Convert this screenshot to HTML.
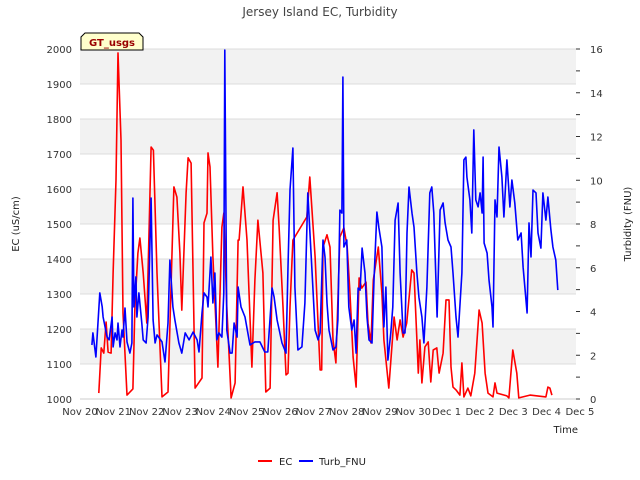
<!DOCTYPE html>
<html><head><meta charset="utf-8"><style>
body{margin:0;background:#fff;}
svg{display:block;font-family:"DejaVu Sans","Liberation Sans",sans-serif;}
</style></head><body>
<svg id="chart" width="640" height="480" viewBox="0 0 640 480" xmlns="http://www.w3.org/2000/svg">
<rect width="640" height="480" fill="#fff"/>
<g id="bands"></g><g id="grid"></g>
<text x="320" y="16" text-anchor="middle" font-size="12" fill="#444">Jersey Island EC, Turbidity</text>
<g id="axes"></g>
<g id="series"></g>
<text transform="translate(19,224) rotate(-90)" text-anchor="middle" font-size="10" fill="#222">EC (uS/cm)</text>
<text transform="translate(631,224) rotate(-90)" text-anchor="middle" font-size="10" fill="#222">Turbidity (FNU)</text>
<text x="578" y="433" text-anchor="end" font-size="10" fill="#222">Time</text>
<g>
<path d="M81,50 L81,37 L85,33 L139,33 L143,37 L143,50 Z" fill="#ffffcc" stroke="#000" stroke-width="1"/>
<text x="112" y="46" text-anchor="middle" font-size="10" font-weight="bold" fill="#990000">GT_usgs</text>
</g>
<g>
<g><line x1="258" y1="461" x2="272" y2="461" stroke="#f00" stroke-width="2"/><text x="279" y="465" font-size="10" fill="#222">EC</text></g>
<g><line x1="299" y1="461" x2="313" y2="461" stroke="#00f" stroke-width="2"/><text x="319" y="465" font-size="10" fill="#222">Turb_FNU</text></g>
</g>
</svg>
<script>
const xTickLabels=["Nov 20","Nov 21","Nov 22","Nov 23","Nov 24","Nov 25","Nov 26","Nov 27","Nov 28","Nov 29","Nov 30","Dec 1","Dec 2","Dec 3","Dec 4","Dec 5"];
const ecTicks=[1000,1100,1200,1300,1400,1500,1600,1700,1800,1900,2000];
const turbTicks=[0,2,4,6,8,10,12,14,16];
const ecDays=[0.57,0.64,0.72,0.79,0.85,0.94,1.00,1.09,1.15,1.24,1.30,1.42,1.60,1.66,1.75,1.81,1.91,2.02,2.15,2.22,2.33,2.48,2.66,2.78,2.84,2.93,3.02,3.08,3.21,3.27,3.36,3.48,3.69,3.75,3.84,3.87,3.93,4.02,4.17,4.29,4.35,4.44,4.57,4.69,4.78,4.81,4.93,5.05,5.20,5.29,5.38,5.53,5.62,5.75,5.84,5.96,6.02,6.14,6.23,6.29,6.35,6.44,6.86,6.95,7.11,7.26,7.31,7.35,7.47,7.56,7.65,7.74,7.86,7.98,8.08,8.16,8.26,8.35,8.44,8.52,8.65,8.71,8.80,8.87,9.02,9.13,9.19,9.34,9.50,9.59,9.68,9.77,9.88,10.03,10.10,10.19,10.23,10.28,10.34,10.43,10.53,10.61,10.68,10.79,10.86,10.98,11.07,11.16,11.22,11.28,11.37,11.49,11.55,11.61,11.73,11.82,11.94,12.07,12.16,12.25,12.34,12.49,12.55,12.61,12.91,12.97,13.09,13.21,13.27,13.61,14.09,14.15,14.21,14.27];
const ecValues=[1017,1146,1131,1220,1134,1131,1359,1626,1989,1740,1246,1011,1029,1263,1417,1460,1360,1217,1720,1711,1360,1006,1020,1406,1606,1577,1417,1254,1589,1689,1674,1031,1060,1503,1531,1703,1663,1406,1091,1491,1531,1263,1003,1046,1454,1454,1606,1454,1091,1340,1511,1360,1020,1031,1511,1589,1491,1263,1069,1074,1263,1454,1520,1634,1406,1083,1083,1434,1469,1434,1169,1103,1463,1489,1434,1311,1120,1034,1346,1317,1334,1217,1160,1340,1434,1303,1169,1031,1234,1169,1226,1177,1217,1369,1360,1169,1074,1169,1046,1149,1163,1049,1140,1146,1074,1131,1283,1283,1091,1034,1026,1011,1103,1006,1031,1009,1074,1254,1217,1074,1017,1006,1046,1017,1009,1003,1140,1074,1003,1011,1006,1034,1031,1011];
const turbDays=[0.36,0.39,0.48,0.60,0.67,0.70,0.82,0.88,0.97,1.00,1.06,1.12,1.15,1.21,1.27,1.30,1.36,1.42,1.51,1.57,1.60,1.63,1.69,1.72,1.78,1.87,1.91,2.00,2.06,2.15,2.21,2.27,2.33,2.48,2.57,2.66,2.72,2.81,2.87,2.99,3.08,3.18,3.30,3.42,3.54,3.60,3.69,3.75,3.84,3.87,3.96,4.02,4.08,4.14,4.20,4.29,4.35,4.38,4.44,4.54,4.60,4.66,4.75,4.78,4.87,4.99,5.14,5.29,5.44,5.59,5.68,5.81,5.87,5.96,6.11,6.23,6.29,6.35,6.44,6.50,6.59,6.71,6.80,6.89,7.02,7.11,7.20,7.26,7.35,7.41,7.47,7.53,7.65,7.74,7.80,7.86,7.92,7.95,7.98,8.07,8.13,8.22,8.29,8.35,8.41,8.47,8.53,8.62,8.68,8.74,8.83,8.89,8.98,9.04,9.13,9.19,9.25,9.31,9.40,9.46,9.53,9.62,9.68,9.77,9.83,9.89,9.95,10.04,10.10,10.19,10.25,10.34,10.40,10.49,10.58,10.64,10.70,10.80,10.89,10.98,11.04,11.13,11.22,11.28,11.37,11.43,11.55,11.61,11.67,11.70,11.79,11.85,11.91,11.97,12.04,12.10,12.16,12.19,12.22,12.31,12.37,12.46,12.49,12.55,12.61,12.67,12.76,12.82,12.91,13.00,13.06,13.15,13.24,13.34,13.40,13.52,13.58,13.64,13.70,13.79,13.85,13.94,14.00,14.09,14.15,14.24,14.30,14.39,14.45];
const turbValues=[2.47,3.02,1.92,4.85,4.21,3.75,2.83,2.70,3.75,2.38,3.02,2.70,3.47,2.38,3.15,2.83,4.16,2.61,2.10,2.56,9.19,4.21,5.58,3.75,4.85,3.47,2.70,2.56,3.75,9.19,3.61,2.56,2.93,2.61,1.69,3.47,6.35,4.21,3.61,2.56,2.10,3.02,2.70,3.06,2.70,2.15,3.93,4.85,4.66,4.21,6.49,4.39,5.76,2.70,3.02,2.83,4.85,15.95,3.15,2.10,2.10,3.47,2.83,5.12,4.21,3.75,2.47,2.61,2.61,2.15,2.15,5.07,4.66,3.61,2.56,2.10,6.03,9.55,11.47,5.12,2.24,2.38,4.39,9.42,5.76,3.15,2.70,3.02,7.27,6.49,4.39,3.15,2.24,2.38,3.61,8.64,8.50,14.72,6.95,7.27,4.21,3.15,3.61,2.10,5.07,4.98,6.90,5.76,3.75,2.70,2.56,5.44,8.55,7.82,6.95,3.29,5.12,1.78,3.02,4.21,8.18,8.96,5.76,3.02,3.02,7.59,9.69,8.50,7.86,5.76,4.66,3.75,2.56,5.12,9.42,9.69,8.50,3.75,8.64,8.96,8.05,7.27,6.95,5.76,3.75,2.83,5.76,10.93,11.06,10.15,9.10,7.59,12.30,9.10,8.78,9.42,8.50,11.06,7.13,6.67,5.44,4.21,3.29,9.10,8.32,11.52,10.15,8.32,10.93,8.78,10.01,8.96,7.27,7.59,6.03,3.93,8.05,6.49,9.55,9.42,7.59,6.90,9.42,8.18,9.23,7.73,6.95,6.35,4.98];

const L=80,R=576,T=49,B=399,NS="http://www.w3.org/2000/svg";
const xs=d=>L+d*(R-L)/15;
const xl=i=>L+i*33.33;
const yEC=v=>B-(v-1000)*(B-T)/1000;
const yT=v=>B-v*(B-T)/16;
function mk(tag,attrs,parent){const e=document.createElementNS(NS,tag);for(const k in attrs)e.setAttribute(k,attrs[k]);document.getElementById(parent).appendChild(e);return e;}
for(let i=0;i<ecTicks.length-1;i++){
  if(i%2===1){const r=mk('rect',{x:L,y:yEC(ecTicks[i+1]),width:R-L,height:yEC(ecTicks[i])-yEC(ecTicks[i+1]),fill:'#f2f2f2'},'bands');
  
  }
}
ecTicks.forEach(v=>{
  const g=mk('line',{x1:L,x2:R,y1:yEC(v),y2:yEC(v),stroke:'#dcdcdc','stroke-width':1},'grid');
  
  
  const t=mk('text',{x:L-8,y:yEC(v)+4,'text-anchor':'end','font-size':10,fill:'#333'},'axes');
  t.textContent=v;
  
  
});
for(let v=0;v<=16;v++){
  const tk=mk('line',{x1:R,x2:R+4,y1:yT(v),y2:yT(v),stroke:'#333'},'axes');
  
  
}
turbTicks.forEach(v=>{
  const t=mk('text',{x:R+14,y:yT(v)+4,'font-size':10,fill:'#333'},'axes');
  t.textContent=v;
  
  
});
xTickLabels.forEach((s,i)=>{
  const t=mk('text',{x:xl(i),y:415,'text-anchor':'middle','font-size':10,fill:'#333'},'axes');
  t.textContent=s;
  
  
});
const ax=mk('line',{x1:L,x2:R,y1:B,y2:B,stroke:'#ccc'},'axes');


const ec=mk('polyline',{points:ecDays.map((d,i)=>xs(d).toFixed(1)+','+yEC(ecValues[i]).toFixed(1)).join(' '),fill:'none',stroke:'#f00','stroke-width':1.6,'stroke-linejoin':'round'},'series');


const tb=mk('polyline',{points:turbDays.map((d,i)=>xs(d).toFixed(1)+','+yT(turbValues[i]).toFixed(1)).join(' '),fill:'none',stroke:'#00f','stroke-width':1.6,'stroke-linejoin':'round'},'series');


</script>
</body></html>
